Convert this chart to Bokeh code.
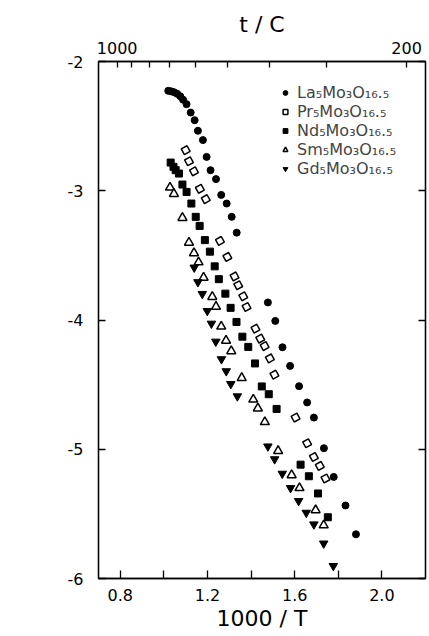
from bokeh.plotting import figure
from bokeh.models import (FixedTicker, LinearAxis, Range1d, Legend, LegendItem,
                          Label, PrintfTickFormatter, CustomJSTickFormatter)
from bokeh.embed import file_html
from bokeh.resources import INLINE

# ---- data (1000/T in 1/K, log sigma) ----
la_x = [1.020, 1.033, 1.047, 1.061, 1.075, 1.088, 1.104, 1.123, 1.141, 1.156, 1.179,
        1.196, 1.214, 1.239, 1.263, 1.288, 1.311, 1.334, 1.477, 1.511, 1.544, 1.579,
        1.620, 1.657, 1.688, 1.734, 1.779, 1.833, 1.881]
la_y = [-2.227, -2.231, -2.238, -2.250, -2.269, -2.296, -2.330, -2.395, -2.454, -2.536, -2.608,
        -2.738, -2.841, -2.910, -3.032, -3.099, -3.202, -3.324, -3.864, -4.007, -4.211, -4.355,
        -4.512, -4.638, -4.755, -4.992, -5.214, -5.435, -5.658]

pr_x = [1.100, 1.115, 1.138, 1.165, 1.192, 1.257, 1.291, 1.324, 1.341, 1.364, 1.379,
        1.420, 1.442, 1.462, 1.486, 1.507, 1.604, 1.657, 1.688, 1.715, 1.741]
pr_y = [-2.686, -2.772, -2.850, -2.985, -3.065, -3.388, -3.512, -3.663, -3.731, -3.817, -3.899,
        -4.067, -4.144, -4.202, -4.297, -4.423, -4.755, -4.954, -5.060, -5.129, -5.226]

nd_x = [1.031, 1.044, 1.054, 1.069, 1.085, 1.104, 1.126, 1.146, 1.164, 1.188, 1.211, 1.233,
        1.252, 1.282, 1.306, 1.333, 1.360, 1.387, 1.418, 1.449, 1.481, 1.517, 1.627, 1.665,
        1.707, 1.752]
nd_y = [-2.782, -2.815, -2.841, -2.867, -2.952, -3.009, -3.099, -3.202, -3.272, -3.382, -3.471,
        -3.585, -3.684, -3.796, -3.906, -4.015, -4.129, -4.208, -4.336, -4.514, -4.574, -4.688,
        -5.119, -5.209, -5.342, -5.526]

sm_x = [1.028, 1.046, 1.085, 1.115, 1.138, 1.159, 1.182, 1.222, 1.239, 1.263, 1.285,
        1.309, 1.357, 1.410, 1.431, 1.463, 1.524, 1.586, 1.622, 1.696, 1.733]
sm_y = [-2.975, -3.024, -3.210, -3.401, -3.482, -3.553, -3.672, -3.821, -3.897, -4.050, -4.159,
        -4.241, -4.448, -4.615, -4.683, -4.789, -5.013, -5.200, -5.300, -5.471, -5.588]

gd_x = [1.139, 1.156, 1.176, 1.199, 1.218, 1.238, 1.264, 1.286, 1.307, 1.337, 1.477,
        1.508, 1.543, 1.581, 1.618, 1.653, 1.688, 1.733, 1.777]
gd_y = [-3.594, -3.707, -3.798, -3.930, -4.028, -4.167, -4.303, -4.396, -4.495, -4.590, -4.978,
        -5.077, -5.189, -5.300, -5.400, -5.491, -5.581, -5.729, -5.903]

series_labels = ["La₅Mo₃O₁₆.₅", "Pr₅Mo₃O₁₆.₅", "Nd₅Mo₃O₁₆.₅", "Sm₅Mo₃O₁₆.₅", "Gd₅Mo₃O₁₆.₅"]

bottom_major = [0.8, 1.2, 1.6, 2.0]
bottom_minor = [1.0, 1.4, 1.8]
left_ticks = [-6, -5, -4, -3, -2]
top_temps_c = [1000, 900, 800, 700, 600, 500, 400, 300, 200]
top_labelled_c = [1000, 200]

FONT = "DejaVu Sans"

p = figure(width=429, height=636, x_range=Range1d(0.7, 2.2), y_range=Range1d(-6, -2),
           output_backend="svg", toolbar_location=None,
           x_axis_location=None, y_axis_location=None,
           min_border_left=98, min_border_right=4, min_border_top=61, min_border_bottom=58)
p.grid.visible = False
p.outline_line_color = "black"
p.outline_line_width = 1.3
p.background_fill_color = "white"
p.border_fill_color = "white"


def style_axis(ax, tick_in):
    ax.axis_line_color = "black"
    ax.axis_line_width = 1.3
    ax.major_tick_in = tick_in
    ax.major_tick_out = 0
    ax.minor_tick_in = tick_in
    ax.minor_tick_out = 0
    ax.major_tick_line_width = 1.3
    ax.minor_tick_line_width = 1.3
    ax.major_label_text_font = FONT
    ax.major_label_text_font_size = "16px"
    ax.major_label_text_color = "black"
    ax.axis_label_text_font = FONT
    ax.axis_label_text_font_style = "normal"
    ax.axis_label_text_font_size = "22px"
    ax.axis_label_text_color = "black"


# bottom axis
xb = LinearAxis(ticker=FixedTicker(ticks=bottom_major, minor_ticks=bottom_minor),
                formatter=PrintfTickFormatter(format="%.1f"), axis_label="1000 / T")
style_axis(xb, 8)
xb.major_label_standoff = 10
xb.axis_label_standoff = 2
p.add_layout(xb, "below")

# top axis (temperature in C)
top_pos = [1000.0 / (t + 273.15) for t in top_temps_c]
top_major = [1000.0 / (t + 273.15) for t in top_labelled_c]
top_minor = [v for v, t in zip(top_pos, top_temps_c) if t not in top_labelled_c]
xt = LinearAxis(ticker=FixedTicker(ticks=top_major, minor_ticks=top_minor),
                formatter=CustomJSTickFormatter(args=dict(labels=[str(t) for t in top_labelled_c]),
                                                code="return labels[index];"),
                axis_label="t / C")
style_axis(xt, 6)
xt.major_label_standoff = 8
xt.axis_label_standoff = 2
p.add_layout(xt, "above")

# left axis
yl = LinearAxis(ticker=FixedTicker(ticks=left_ticks), formatter=PrintfTickFormatter(format="%d"))
style_axis(yl, 7)
yl.major_label_standoff = 15
p.add_layout(yl, "left")

# right axis: tick marks only (as minor ticks, so no labels are drawn)
yr = LinearAxis(ticker=FixedTicker(ticks=[], minor_ticks=left_ticks))
style_axis(yr, 7)
yr.major_label_standoff = 0
p.add_layout(yr, "right")

# y axis label as free text
p.add_layout(Label(x=0.468, y=-3.365, text="log σ", text_font=FONT, text_font_size="22px",
                   text_align="center", text_baseline="middle", text_color="black"))

r_la = p.scatter(la_x, la_y, marker="circle", size=7, fill_color="black", line_color="black")
r_pr = p.scatter(pr_x, pr_y, marker="square", angle=0.5, size=6.5, fill_color="white",
                 line_color="black", line_width=1.5)
r_nd = p.scatter(nd_x, nd_y, marker="square", size=7, fill_color="black", line_color="black")
r_sm = p.scatter(sm_x, sm_y, marker="triangle", size=9, fill_color="white",
                 line_color="black", line_width=1.5)
r_gd = p.scatter(gd_x, gd_y, marker="inverted_triangle", size=8.5, fill_color="black",
                 line_color="black")

legend = Legend(items=[LegendItem(label=l, renderers=[r]) for l, r in
                       zip(series_labels, [r_la, r_pr, r_nd, r_sm, r_gd])],
                location=(181, 400), padding=0, margin=0, spacing=0,
                glyph_width=12, glyph_height=15, label_height=15, label_standoff=6,
                label_text_font=FONT, label_text_font_size="16px",
                border_line_color=None, background_fill_alpha=0)
p.add_layout(legend)

open("out.html", "w").write(file_html(p, INLINE))
